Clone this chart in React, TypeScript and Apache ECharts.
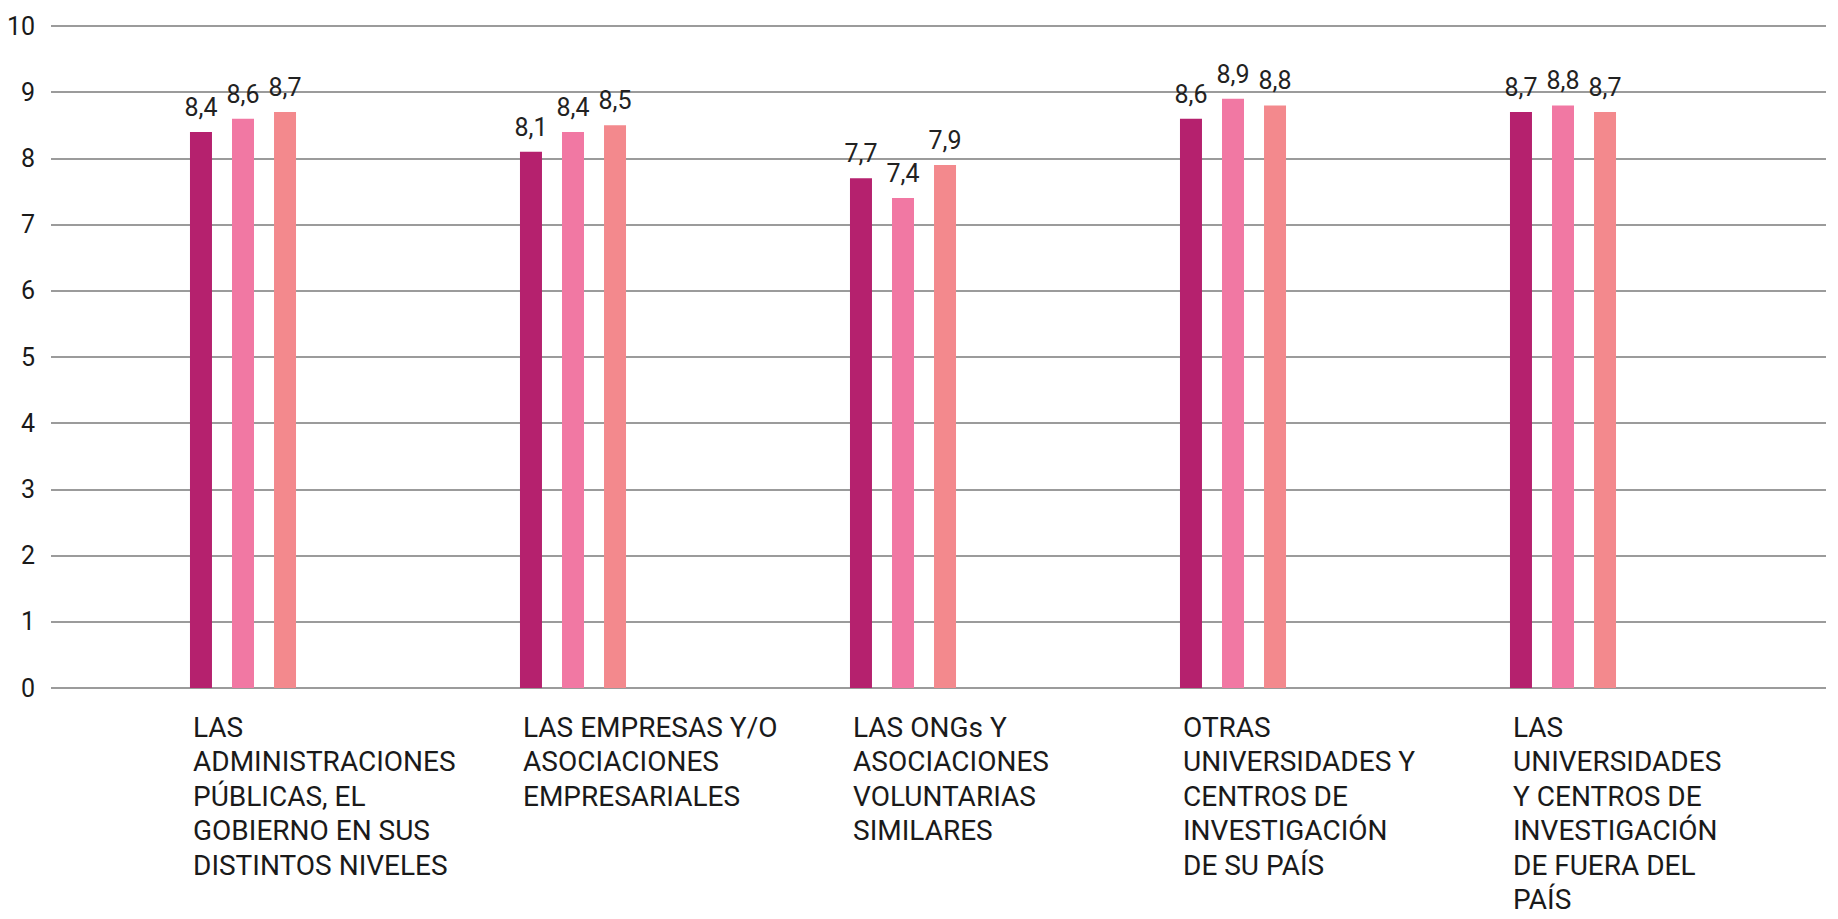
import React, { useEffect, useRef } from "react";
import * as echarts from "echarts";

const categories = [
  "LAS\nADMINISTRACIONES\nPÚBLICAS, EL\nGOBIERNO EN SUS\nDISTINTOS NIVELES",
  "LAS EMPRESAS Y/O\nASOCIACIONES\nEMPRESARIALES",
  "LAS ONGs Y\nASOCIACIONES\nVOLUNTARIAS\nSIMILARES",
  "OTRAS\nUNIVERSIDADES Y\nCENTROS DE\nINVESTIGACIÓN\nDE SU PAÍS",
  "LAS\nUNIVERSIDADES\nY CENTROS DE\nINVESTIGACIÓN\nDE FUERA DEL\nPAÍS",
];

const seriesA = [8.4, 8.1, 7.7, 8.6, 8.7];
const seriesB = [8.6, 8.4, 7.4, 8.9, 8.8];
const seriesC = [8.7, 8.5, 7.9, 8.8, 8.7];

const colors = ["#B5216E", "#F178A3", "#F3898D"];

const FONT = "Roboto, 'DejaVu Sans', sans-serif";

export default function App() {
  const ref = useRef<HTMLDivElement>(null);

  useEffect(() => {
    document.body.style.margin = "0";
    if (!ref.current) return;
    const chart = echarts.init(ref.current, undefined, { renderer: "svg" });
    const top = 26;
    const bottom = 231;
    const makeSeries = (name: string, data: number[], color: string) => ({
      name,
      type: "bar",
      xAxisIndex: 1,
      yAxisIndex: 1,
      data,
      barWidth: 22,
      barGap: "91%",
      itemStyle: { color },
      label: {
        show: true,
        position: "top",
        distance: 12,
        fontFamily: FONT,
        fontSize: 25,
        color: "#222",
        formatter: (p: any) => Number(p.value).toFixed(1).replace(".", ","),
      },
    });
    const gridBase = { top, bottom, outerBoundsMode: "none", containLabel: false };
    chart.setOption({
      animation: false,
      backgroundColor: "#ffffff",
      grid: [
        { ...gridBase, left: 51, right: 12 },
        { ...gridBase, left: 78, right: 110 },
        { ...gridBase, left: 28, right: 160 },
      ],
      xAxis: [
        { type: "value", gridIndex: 0, min: 0, max: 1, show: false },
        {
          type: "category",
          gridIndex: 1,
          data: categories,
          axisLine: { show: false },
          axisTick: { show: false },
          axisLabel: { show: false },
        },
        {
          type: "category",
          gridIndex: 2,
          data: categories,
          axisLine: { show: false },
          axisTick: { show: false },
          axisLabel: {
            show: true,
            interval: 0,
            align: "left",
            margin: 22,
            fontFamily: FONT,
            fontSize: 28,
            lineHeight: 34.5,
            color: "#1a1a1a",
          },
        },
      ],
      yAxis: [
        {
          type: "value",
          gridIndex: 0,
          min: 0,
          max: 10,
          interval: 1,
          axisLine: { show: false },
          axisTick: { show: false },
          axisLabel: {
            margin: 16,
            fontFamily: FONT,
            fontSize: 25,
            color: "#1a1a1a",
          },
          splitLine: { show: true, lineStyle: { color: "#7a7a7a", width: 1.5 } },
        },
        { type: "value", gridIndex: 1, min: 0, max: 10, interval: 1, show: false },
        { type: "value", gridIndex: 2, min: 0, max: 10, interval: 1, show: false },
      ],
      series: [
        makeSeries("Serie 1", seriesA, colors[0]),
        makeSeries("Serie 2", seriesB, colors[1]),
        makeSeries("Serie 3", seriesC, colors[2]),
      ],
    });
    return () => chart.dispose();
  }, []);

  return (
    <div
      ref={ref}
      style={{ position: "fixed", left: 0, top: 0, width: 1838, height: 919 }}
    />
  );
}
